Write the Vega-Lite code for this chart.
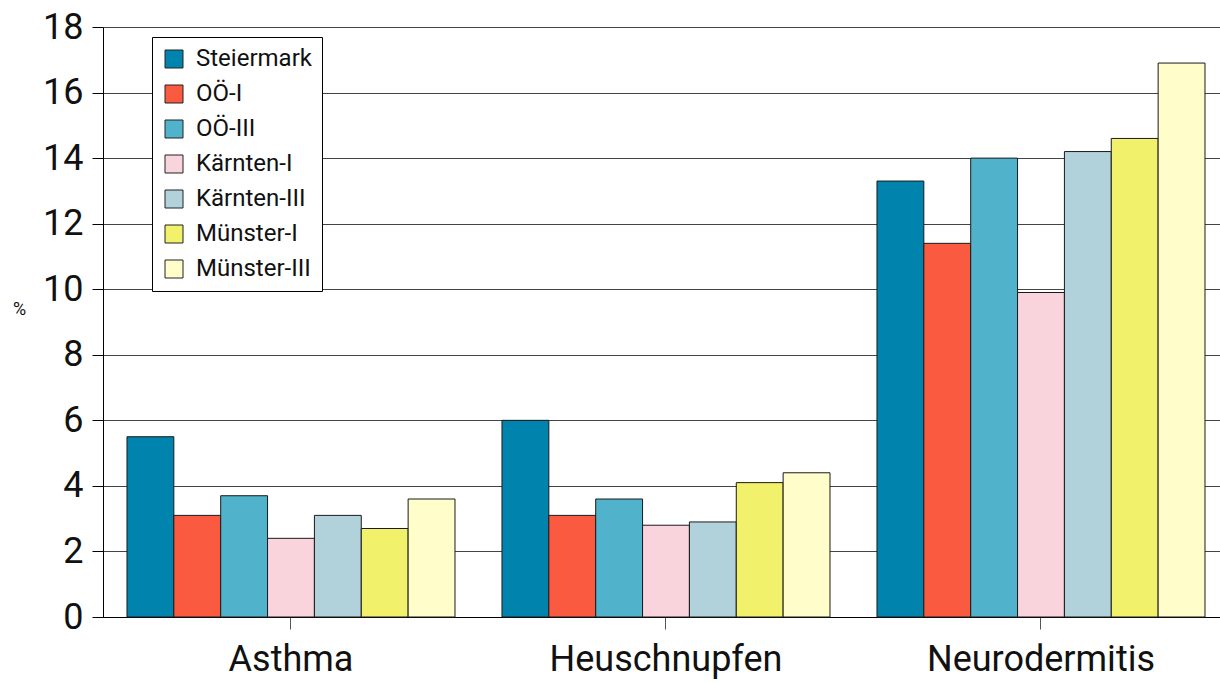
{
  "$schema": "https://vega.github.io/schema/vega-lite/v6.json",
  "width": 1117,
  "height": 590,
  "autosize": {"type": "none"},
  "padding": {"left": 103, "top": 27, "right": 0, "bottom": 66},
  "background": "white",
  "data": {
    "values": [
      {"Kategorie": "Asthma", "Region": "Steiermark", "Wert": 5.5},
      {"Kategorie": "Asthma", "Region": "OÖ-I", "Wert": 3.1},
      {"Kategorie": "Asthma", "Region": "OÖ-III", "Wert": 3.7},
      {"Kategorie": "Asthma", "Region": "Kärnten-I", "Wert": 2.4},
      {"Kategorie": "Asthma", "Region": "Kärnten-III", "Wert": 3.1},
      {"Kategorie": "Asthma", "Region": "Münster-I", "Wert": 2.7},
      {"Kategorie": "Asthma", "Region": "Münster-III", "Wert": 3.6},
      {"Kategorie": "Heuschnupfen", "Region": "Steiermark", "Wert": 6.0},
      {"Kategorie": "Heuschnupfen", "Region": "OÖ-I", "Wert": 3.1},
      {"Kategorie": "Heuschnupfen", "Region": "OÖ-III", "Wert": 3.6},
      {"Kategorie": "Heuschnupfen", "Region": "Kärnten-I", "Wert": 2.8},
      {"Kategorie": "Heuschnupfen", "Region": "Kärnten-III", "Wert": 2.9},
      {"Kategorie": "Heuschnupfen", "Region": "Münster-I", "Wert": 4.1},
      {"Kategorie": "Heuschnupfen", "Region": "Münster-III", "Wert": 4.4},
      {"Kategorie": "Neurodermitis", "Region": "Steiermark", "Wert": 13.3},
      {"Kategorie": "Neurodermitis", "Region": "OÖ-I", "Wert": 11.4},
      {"Kategorie": "Neurodermitis", "Region": "OÖ-III", "Wert": 14.0},
      {"Kategorie": "Neurodermitis", "Region": "Kärnten-I", "Wert": 9.9},
      {"Kategorie": "Neurodermitis", "Region": "Kärnten-III", "Wert": 14.2},
      {"Kategorie": "Neurodermitis", "Region": "Münster-I", "Wert": 14.6},
      {"Kategorie": "Neurodermitis", "Region": "Münster-III", "Wert": 16.9}
    ]
  },
  "mark": {"type": "bar", "stroke": "#1a1a1a", "strokeWidth": 1},
  "encoding": {
    "x": {
      "field": "Kategorie",
      "type": "nominal",
      "sort": ["Asthma", "Heuschnupfen", "Neurodermitis"],
      "scale": {"paddingInner": 0.1253, "paddingOuter": 0.052, "align": 0.615},
      "axis": {
        "title": null,
        "labelAngle": 0,
        "labelFontSize": 36,
        "labelFont": "Roboto",
        "labelFontWeight": "normal",
        "labelColor": "#111",
        "labelLimit": 0,
        "domainColor": "#000",
        "tickColor": "#555",
        "tickSize": 12,
        "labelPadding": 13,
        "grid": false
      }
    },
    "xOffset": {
      "field": "Region",
      "type": "nominal",
      "sort": ["Steiermark", "OÖ-I", "OÖ-III", "Kärnten-I", "Kärnten-III", "Münster-I", "Münster-III"],
      "scale": {"paddingInner": 0, "paddingOuter": 0}
    },
    "y": {
      "field": "Wert",
      "type": "quantitative",
      "scale": {"domain": [0, 18], "nice": false},
      "axis": {
        "title": "%",
        "titleAngle": 0,
        "titleX": -84,
        "titleY": 282,
        "titleFontSize": 18,
        "titleFont": "Roboto",
        "titleFontWeight": "normal",
        "titleColor": "#111",
        "titleAlign": "center",
        "titleBaseline": "middle",
        "values": [0, 2, 4, 6, 8, 10, 12, 14, 16, 18],
        "labelFontSize": 36,
        "labelFont": "Roboto",
        "labelFontWeight": "normal",
        "labelColor": "#111",
        "tickSize": 11,
        "tickColor": "#000",
        "domainColor": "#000",
        "gridColor": "#444",
        "gridWidth": 1,
        "labelPadding": 9
      }
    },
    "color": {
      "field": "Region",
      "type": "nominal",
      "sort": ["Steiermark", "OÖ-I", "OÖ-III", "Kärnten-I", "Kärnten-III", "Münster-I", "Münster-III"],
      "scale": {
        "domain": ["Steiermark", "OÖ-I", "OÖ-III", "Kärnten-I", "Kärnten-III", "Münster-I", "Münster-III"],
        "range": ["#0083AD", "#FA5A3F", "#50B3CB", "#F9D4DC", "#B1D2DB", "#F1F16B", "#FFFDCA"]
      },
      "legend": {
        "title": null,
        "orient": "none",
        "legendX": 49,
        "legendY": 10,
        "fillColor": "white",
        "strokeColor": "#000",
        "padding": 10,
        "labelFontSize": 24,
        "labelFont": "Roboto",
        "labelFontWeight": "normal",
        "labelColor": "#111",
        "labelLimit": 0,
        "symbolType": "square",
        "symbolSize": 324,
        "symbolStrokeColor": "#222",
        "symbolStrokeWidth": 1,
        "labelOffset": 10,
        "rowPadding": 11
      }
    }
  },
  "config": {"view": {"stroke": null}, "axis": {"domainWidth": 1}}
}
